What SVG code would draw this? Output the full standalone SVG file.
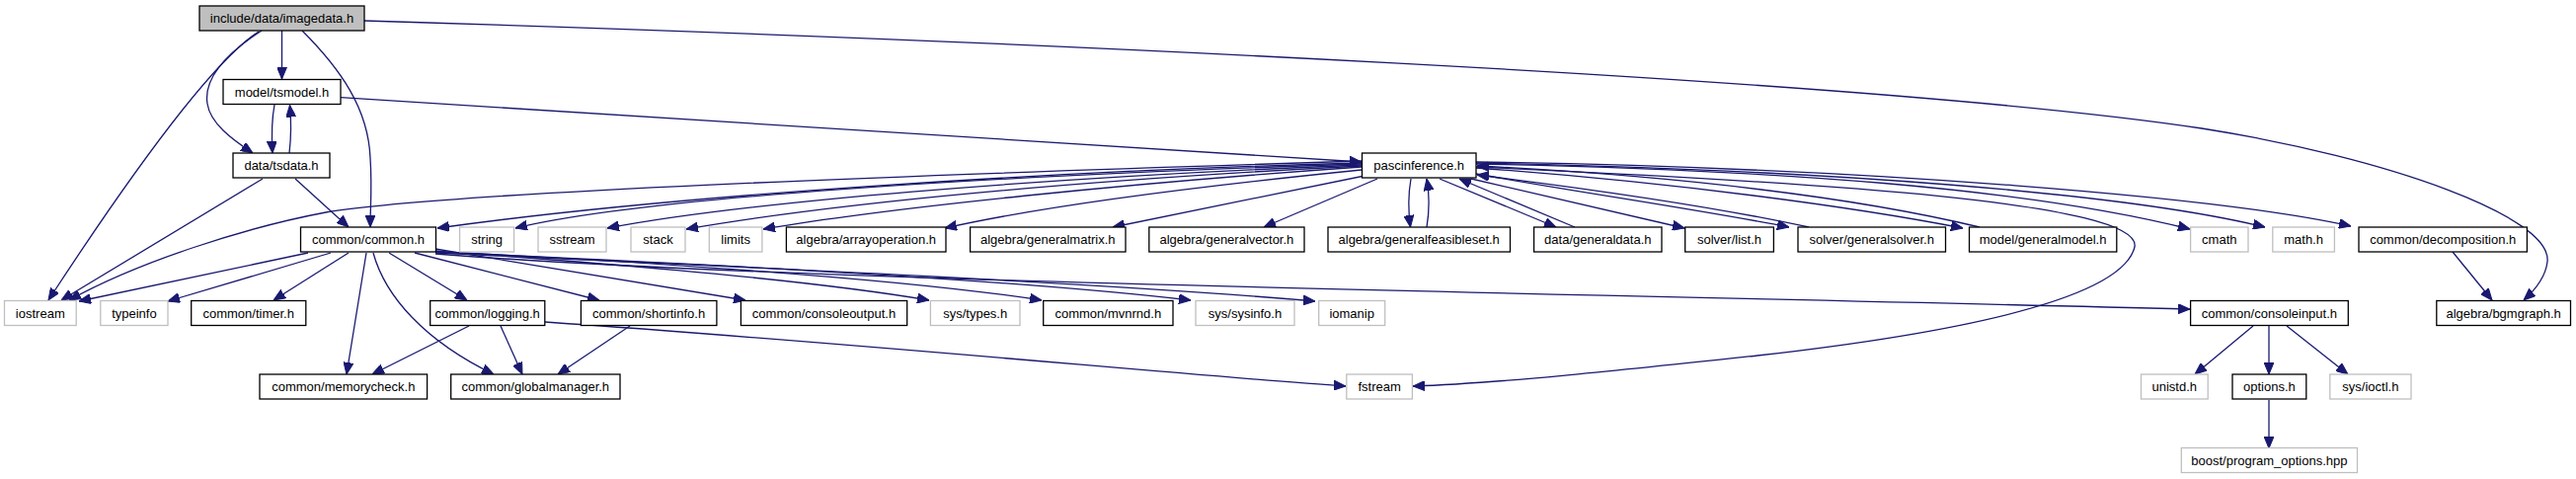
<svg xmlns="http://www.w3.org/2000/svg" width="2609" height="485" viewBox="0 0 2609 485">
<style>
.n rect{fill:#fff;stroke:#000;stroke-width:1.3}
.s rect{fill:#fff;stroke:#bfbfbf;stroke-width:1.3}
.r rect{fill:#bfbfbf;stroke:#000;stroke-width:1.3}
text{font-family:"Liberation Sans",Arial,sans-serif;font-size:13px;text-anchor:middle;fill:#000}
#edges path{fill:none;stroke:#191970;stroke-width:1.3;marker-end:url(#a)}
</style>
<defs>
<marker id="a" viewBox="0 0 12 10" refX="12" refY="5" markerWidth="12" markerHeight="10" markerUnits="userSpaceOnUse" orient="auto">
<path d="M0,0 L12,5 L0,10 z" fill="#191970" stroke="#191970"/>
</marker>
</defs>
<rect width="2609" height="485" fill="#fff"/>
<g id="edges">
<path d="M285.5,31 L285.5,80"/>
<path d="M265,31 C228,55 206,80 210,105 C213,125 235,141 256,155"/>
<path d="M262,32 C215,62 130,180 49,304"/>
<path d="M306,31 C345,70 373,110 375,160 C377,190 375,210 375,230"/>
<path d="M369,21 C1000,40 1900,80 2230,130 C2420,160 2585,220 2580,265 C2578,282 2566,295 2556,304"/>
<path d="M345,98.7 L1379,164"/>
<path d="M278,106 C275,122 275,138 276,155"/>
<path d="M293,155 C295,138 295,122 293.5,106.5"/>
<path d="M299,181 L353,230"/>
<path d="M266,181 L62,304"/>
<path d="M1379,163 C900,178 450,195 330,215 C250,230 140,265 70,304"/>
<path d="M1379,165 C1100,172 700,195 443,231"/>
<path d="M1379,166 C1000,178 650,200 522,231"/>
<path d="M1379,167 C1050,180 750,205 615,231"/>
<path d="M1379,168 C1100,182 850,205 695,232"/>
<path d="M1379,169 C1150,185 900,210 773,232"/>
<path d="M1379,172 C1200,190 1050,210 957,231"/>
<path d="M1382,178 L1127,230"/>
<path d="M1395,181 L1280,230"/>
<path d="M1429,181 C1426,198 1426,212 1428.5,230"/>
<path d="M1445,230 C1448,212 1448,198 1445,181"/>
<path d="M1458,181 L1576,230"/>
<path d="M1595,230 L1478,181"/>
<path d="M1490,181 L1706,231"/>
<path d="M1495,176 C1600,195 1720,212 1812,230"/>
<path d="M1832,230 C1740,210 1600,190 1496,177"/>
<path d="M1495,170 C1700,185 1880,210 1988,231"/>
<path d="M2005,230 C1880,200 1700,178 1496,168"/>
<path d="M1495,166 C1800,172 2050,190 2218,232"/>
<path d="M1495,165 C1850,172 2150,195 2294,230"/>
<path d="M1495,164 C1900,170 2250,200 2381,229"/>
<path d="M1495,169 C1850,185 2170,205 2162,250 C2150,300 2000,335 1780,360 C1640,375 1520,388 1431,391"/>
<path d="M312,256 L80,305"/>
<path d="M335,256 L170,305"/>
<path d="M353,256 L277,304"/>
<path d="M371,256 L351,379"/>
<path d="M378,256 C390,300 430,345 500,379"/>
<path d="M394,256 L473,304"/>
<path d="M420,256 L607,304"/>
<path d="M441,252 L755,304"/>
<path d="M441,254 C550,262 800,280 941,304"/>
<path d="M441,255 C600,262 900,280 1055,304"/>
<path d="M441,255 C650,265 1000,280 1206,304"/>
<path d="M441,256 C700,268 1100,285 1332,305"/>
<path d="M441,257 C800,285 1500,295 2218,313"/>
<path d="M475,330 L377,379"/>
<path d="M507,330 L529,379"/>
<path d="M552,326 C900,350 1200,380 1363,391"/>
<path d="M638,330 L565,379"/>
<path d="M2282,330 L2223,379"/>
<path d="M2298,330 L2298,379"/>
<path d="M2316,330 L2378,379"/>
<path d="M2298,405 L2298,454"/>
<path d="M2484,255 L2524,304"/>
</g>
<g id="imagedata" class="r"><rect x="202" y="6" width="167" height="25"/><text x="285.5" y="23">include/data/imagedata.h</text></g>
<g id="tsmodel" class="n"><rect x="226" y="80.5" width="119" height="25"/><text x="285.5" y="97.5">model/tsmodel.h</text></g>
<g id="tsdata" class="n"><rect x="236" y="155" width="98" height="25"/><text x="285" y="172">data/tsdata.h</text></g>
<g id="pascinference" class="n"><rect x="1379.5" y="155" width="115.5" height="25"/><text x="1437.2" y="172">pascinference.h</text></g>
<g id="common" class="n"><rect x="304.5" y="230" width="137" height="25"/><text x="373" y="247">common/common.h</text></g>
<g id="string" class="s"><rect x="465.6" y="230" width="55" height="25"/><text x="493.1" y="247">string</text></g>
<g id="sstream" class="s"><rect x="545" y="230" width="69" height="25"/><text x="579.5" y="247">sstream</text></g>
<g id="stack" class="s"><rect x="639" y="230" width="55" height="25"/><text x="666.5" y="247">stack</text></g>
<g id="limits" class="s"><rect x="718.3" y="230" width="53.6" height="25"/><text x="745.1" y="247">limits</text></g>
<g id="arrayoperation" class="n"><rect x="796.4" y="230" width="161.6" height="25"/><text x="877.2" y="247">algebra/arrayoperation.h</text></g>
<g id="generalmatrix" class="n"><rect x="982.6" y="230" width="157.4" height="25"/><text x="1061.3" y="247">algebra/generalmatrix.h</text></g>
<g id="generalvector" class="n"><rect x="1163.8" y="230" width="157.2" height="25"/><text x="1242.4" y="247">algebra/generalvector.h</text></g>
<g id="generalfeasibleset" class="n"><rect x="1345" y="230" width="184.5" height="25"/><text x="1437.2" y="247">algebra/generalfeasibleset.h</text></g>
<g id="generaldata" class="n"><rect x="1553.6" y="230" width="129.4" height="25"/><text x="1618.3" y="247">data/generaldata.h</text></g>
<g id="list" class="n"><rect x="1706.7" y="230" width="89.7" height="25"/><text x="1751.5" y="247">solver/list.h</text></g>
<g id="generalsolver" class="n"><rect x="1821" y="230" width="149.5" height="25"/><text x="1895.7" y="247">solver/generalsolver.h</text></g>
<g id="generalmodel" class="n"><rect x="1994.5" y="230" width="149.3" height="25"/><text x="2069.1" y="247">model/generalmodel.h</text></g>
<g id="cmath" class="s"><rect x="2218.6" y="230" width="58.4" height="25"/><text x="2247.8" y="247">cmath</text></g>
<g id="mathh" class="s"><rect x="2301.8" y="230" width="62.6" height="25"/><text x="2333.1" y="247">math.h</text></g>
<g id="decomposition" class="n"><rect x="2389" y="230" width="170.4" height="25"/><text x="2474.2" y="247">common/decomposition.h</text></g>
<g id="iostream" class="s"><rect x="4.5" y="304.5" width="72.7" height="25"/><text x="40.8" y="321.5">iostream</text></g>
<g id="typeinfo" class="s"><rect x="101.8" y="304.5" width="68.2" height="25"/><text x="135.9" y="321.5">typeinfo</text></g>
<g id="timer" class="n"><rect x="193.7" y="304.5" width="116.1" height="25"/><text x="251.7" y="321.5">common/timer.h</text></g>
<g id="logging" class="n"><rect x="435.7" y="304.5" width="116.1" height="25"/><text x="493.7" y="321.5">common/logging.h</text></g>
<g id="shortinfo" class="n"><rect x="588.4" y="304.5" width="137.5" height="25"/><text x="657.1" y="321.5">common/shortinfo.h</text></g>
<g id="consoleoutput" class="n"><rect x="750.4" y="304.5" width="168.3" height="25"/><text x="834.5" y="321.5">common/consoleoutput.h</text></g>
<g id="systypes" class="s"><rect x="942.4" y="304.5" width="90.6" height="25"/><text x="987.7" y="321.5">sys/types.h</text></g>
<g id="mvnrnd" class="n"><rect x="1056.7" y="304.5" width="131.3" height="25"/><text x="1122.3" y="321.5">common/mvnrnd.h</text></g>
<g id="sysinfo" class="s"><rect x="1211" y="304.5" width="100" height="25"/><text x="1261" y="321.5">sys/sysinfo.h</text></g>
<g id="iomanip" class="s"><rect x="1335.7" y="304.5" width="67" height="25"/><text x="1369.2" y="321.5">iomanip</text></g>
<g id="consoleinput" class="n"><rect x="2218.6" y="304.5" width="159.7" height="25"/><text x="2298.4" y="321.5">common/consoleinput.h</text></g>
<g id="bgmgraph" class="n"><rect x="2467.8" y="304.5" width="135.7" height="25"/><text x="2535.6" y="321.5">algebra/bgmgraph.h</text></g>
<g id="memorycheck" class="n"><rect x="263" y="379" width="169.6" height="25"/><text x="347.8" y="396">common/memorycheck.h</text></g>
<g id="globalmanager" class="n"><rect x="456.7" y="379" width="171.3" height="25"/><text x="542.3" y="396">common/globalmanager.h</text></g>
<g id="fstream" class="s"><rect x="1363.8" y="379" width="66.6" height="25"/><text x="1397.1" y="396">fstream</text></g>
<g id="unistd" class="s"><rect x="2168.5" y="379" width="67.7" height="25"/><text x="2202.3" y="396">unistd.h</text></g>
<g id="options" class="n"><rect x="2261" y="379" width="74.8" height="25"/><text x="2298.4" y="396">options.h</text></g>
<g id="ioctl" class="s"><rect x="2359.8" y="379" width="82.2" height="25"/><text x="2400.9" y="396">sys/ioctl.h</text></g>
<g id="boost" class="s"><rect x="2209.3" y="453.5" width="178.2" height="25"/><text x="2298.4" y="470.5">boost/program_options.hpp</text></g>
</svg>
